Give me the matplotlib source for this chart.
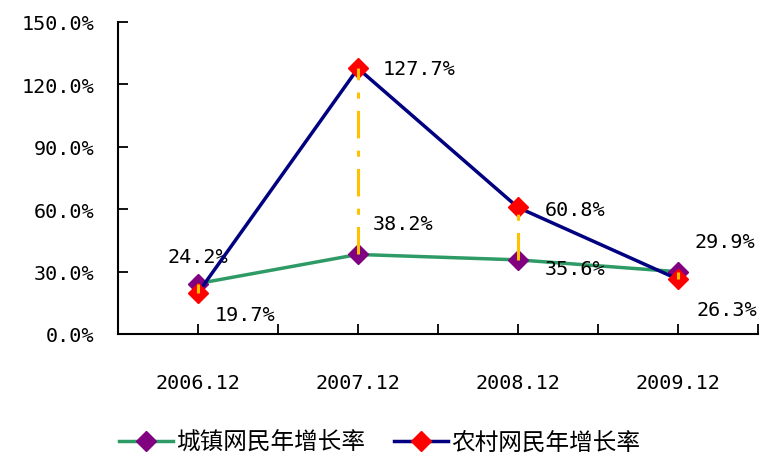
import matplotlib
matplotlib.use("Agg")
import matplotlib.pyplot as plt
import numpy as np

# data
periods = ["2006.12", "2007.12", "2008.12", "2009.12"]
urban = [24.2, 38.2, 35.6, 29.9]
rural = [19.7, 127.7, 60.8, 26.3]
urban_name = "城镇网民年增长率"
rural_name = "农村网民年增长率"
yticks = [0, 30, 60, 90, 120, 150]

NUM_FONT = "DejaVu Sans Mono"
CJK_FONT = ["Noto Sans CJK SC", "DejaVu Sans"]

fig = plt.figure(figsize=(7.61, 4.60), dpi=100)
ax = fig.add_axes([0.155, 0.272, 0.841, 0.678])

x = np.arange(len(periods))
ax.plot(x, urban, color="#2e9b66", lw=2.5, marker="D", ms=10,
        mfc="#800080", mec="#800080", zorder=3, label=urban_name)
ax.plot(x, rural, color="#000080", lw=2.5, marker="D", ms=10,
        mfc="#ff0000", mec="#ff0000", zorder=4, label=rural_name)
# high-low lines
ax.vlines(x, np.minimum(urban, rural), np.maximum(urban, rural), colors="#ffc000",
          linestyles=(0, (9, 4, 2, 4)), lw=2.2, zorder=5)

# data labels (offsets in pixels)
urban_off = [(0, 27, "center"), (15, 31, "left"), (27, -9, "left"), (17, 30, "left")]
rural_off = [(47, -22, "center"), (25, 0, "left"), (27, -2, "left"), (19, -30, "left")]
for xi, v, (dx, dy, ha) in zip(x, urban, urban_off):
    ax.annotate(f"{v:.1f}%", (xi, v), xytext=(dx, dy), textcoords="offset pixels",
                ha=ha, va="center", fontsize=14.5, family=NUM_FONT, annotation_clip=False)
for xi, v, (dx, dy, ha) in zip(x, rural, rural_off):
    ax.annotate(f"{v:.1f}%", (xi, v), xytext=(dx, dy), textcoords="offset pixels",
                ha=ha, va="center", fontsize=14.5, family=NUM_FONT, annotation_clip=False)

ax.set_xlim(-0.5, 3.5)
ax.set_ylim(0, 150)
ax.set_yticks(yticks)
ax.set_yticklabels([f"{t:.1f}%" for t in yticks], family=NUM_FONT, fontsize=14.5)
xt = np.arange(-0.5, 3.51, 0.5)
ax.set_xticks(xt)
ax.set_xticklabels([periods[int(t)] if t == int(t) and 0 <= t <= 3 else "" for t in xt],
                   family=NUM_FONT, fontsize=14.5)
ax.tick_params(axis="y", direction="in", length=7, width=1.3, pad=17)
ax.tick_params(axis="x", direction="in", length=7, width=1.3, pad=28)
for s in ["top", "right"]:
    ax.spines[s].set_visible(False)
for s in ["left", "bottom"]:
    ax.spines[s].set_linewidth(1.5)

fig.legend(loc="lower left", bbox_to_anchor=(0.128, -0.035), ncol=2, frameon=False,
           prop={"family": CJK_FONT, "size": 17}, handlelength=2.3,
           handletextpad=0.15, columnspacing=1.2)

fig.savefig("out.png", dpi=100)
